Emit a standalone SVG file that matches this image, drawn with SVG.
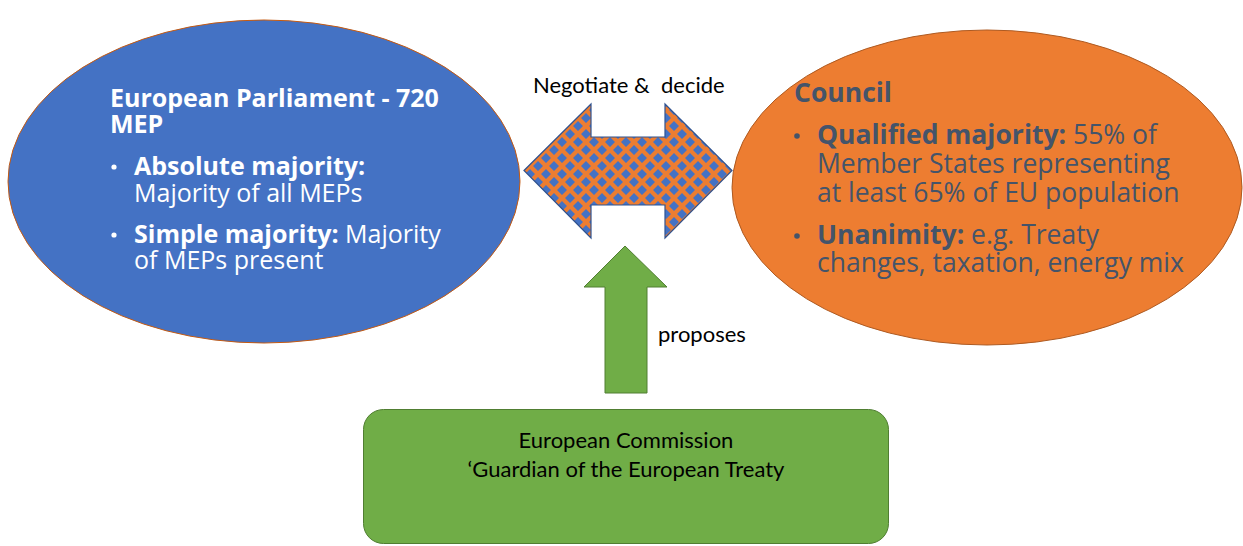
<svg xmlns="http://www.w3.org/2000/svg" width="1243" height="546" viewBox="0 0 1243 546">
  <style>
    .osr { font-family: "Open Sans", "Noto Sans", sans-serif; }
    .b { font-weight: 700; }
    .lbl { font-family: Lato, "Open Sans", sans-serif; font-size: 22px; fill: #000000; }
    .ep { fill: #FFFFFF; font-size: 25px; }
    .co { fill: #44546A; font-size: 26.5px; }
  </style>
  <defs>
    <!-- orange field with blue solid-diamond pattern -->
    <pattern id="diamonds" patternUnits="userSpaceOnUse" x="602" y="150" width="16" height="16">
      <rect width="16" height="16" fill="#ED7D31"/>
      <path d="M0 -5 L5 0 L0 5 L-5 0 Z M16 -5 L21 0 L16 5 L11 0 Z M0 11 L5 16 L0 21 L-5 16 Z M16 11 L21 16 L16 21 L11 16 Z M8 3 L13 8 L8 13 L3 8 Z" fill="#4472C4"/>
    </pattern>
  </defs>

  <!-- European Parliament -->
  <g id="parliament">
    <ellipse cx="264" cy="181.5" rx="256" ry="161.5" fill="#4472C4" stroke="#C55A11" stroke-width="1"/>
    <text class="osr b ep" x="110" y="107">European Parliament - 720</text>
    <text class="osr b ep" x="110" y="133">MEP</text>
    <circle cx="114" cy="167" r="2.6" fill="#FFFFFF"/>
    <text class="osr ep" x="134" y="175"><tspan class="b">Absolute majority:</tspan></text>
    <text class="osr ep" x="134" y="202">Majority of all MEPs</text>
    <circle cx="114" cy="235" r="2.6" fill="#FFFFFF"/>
    <text class="osr ep" x="134" y="243"><tspan class="b">Simple majority:</tspan> Majority</text>
    <text class="osr ep" x="134" y="269">of MEPs present</text>
  </g>

  <!-- Council -->
  <g id="council">
    <ellipse cx="987" cy="187.5" rx="255" ry="157.5" fill="#ED7D31" stroke="#AE5A21" stroke-width="1"/>
    <text class="osr b co" x="794" y="102">Council</text>
    <circle cx="797" cy="136" r="2.8" fill="#44546A"/>
    <text class="osr co" x="817" y="144"><tspan class="b">Qualified majority:</tspan> 55% of</text>
    <text class="osr co" x="817" y="173">Member States representing</text>
    <text class="osr co" x="817" y="202">at least 65% of EU population</text>
    <circle cx="797" cy="236" r="2.8" fill="#44546A"/>
    <text class="osr co" x="817" y="244"><tspan class="b">Unanimity:</tspan> e.g. Treaty</text>
    <text class="osr co" x="817" y="272">changes, taxation, energy mix</text>
  </g>

  <!-- European Commission -->
  <g id="commission">
    <rect x="363.5" y="409.5" width="525" height="134" rx="20" ry="20" fill="#70AD47" stroke="#507E32" stroke-width="1"/>
    <text class="lbl" x="626" y="448" text-anchor="middle">European Commission</text>
    <text class="lbl" x="626" y="477" text-anchor="middle">‘Guardian of the European Treaty</text>
  </g>

  <!-- connectors -->
  <g id="connectors">
    <polygon points="524,170.5 591,104 591,137 665,137 665,104 732,170.5 665,238 665,205 591,205 591,238" fill="url(#diamonds)" stroke="#2F528F" stroke-width="1.2"/>
    <text class="lbl" x="533" y="93" xml:space="preserve">Negotiate &amp;  decide</text>
    <polygon points="625,246 584,287 605,287 605,393 647,393 647,287 667,287" fill="#70AD47" stroke="#507E32" stroke-width="1"/>
    <text class="lbl" x="658" y="342">proposes</text>
  </g>
</svg>
